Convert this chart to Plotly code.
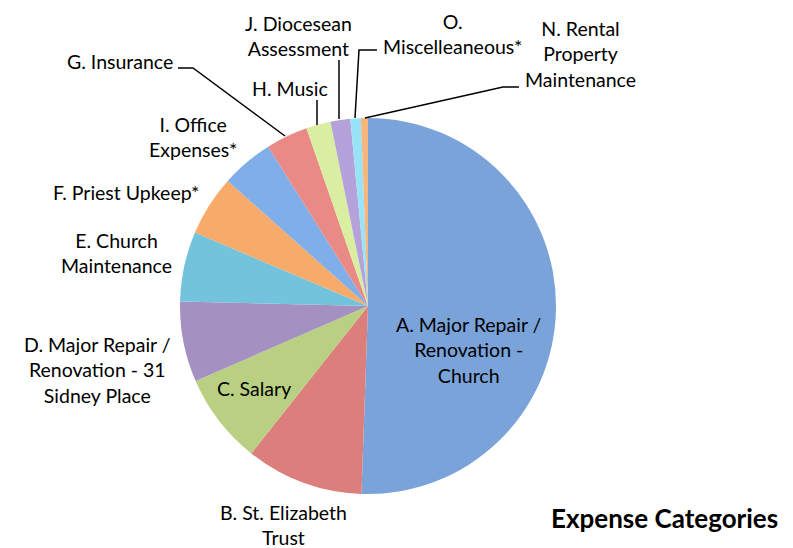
import plotly.graph_objects as go

W, H = 793, 548
OFF = 8  # page body margin
FW, FH = W - OFF, H - OFF

categories = [
    "A. Major Repair /<br>Renovation -<br>Church",
    "B. St. Elizabeth<br>Trust",
    "C. Salary",
    "D. Major Repair /<br>Renovation - 31<br>Sidney Place",
    "E. Church<br>Maintenance",
    "F. Priest Upkeep*",
    "I. Office<br>Expenses*",
    "G. Insurance",
    "H. Music",
    "J. Diocesean<br>Assessment",
    "O.<br>Miscelleaneous*",
    "N. Rental<br>Property<br>Maintenance",
]
values = [50.5, 10.1, 7.8, 6.9, 6.0, 5.2, 4.5, 3.6, 2.1, 1.7, 0.9, 0.6]
colors = ["#7aa3da", "#dc7e7b", "#b9d083", "#a491c2", "#72c3db", "#f7ab6a",
          "#80aee8", "#ea8a86", "#d9eea0", "#b6a2da", "#98e3f5", "#f8b57c"]

# label anchor points (pixel, page coords) for each category, same order
label_px = [(469, 350), (283, 525), (254, 388), (97, 370), (116, 253), (126, 192),
            (193, 137), (120, 62), (290, 88), (298, 36), (452, 34), (580, 54)]

title_text = "Expense Categories"

def px(x, y):
    return (x - OFF) / FW, 1 - (y - OFF) / FH

cx, cy, r = 368, 306, 188

x0, y0 = px(cx - r, cy + r)
x1, y1 = px(cx + r, cy - r)
fig = go.Figure(go.Pie(
    labels=categories, values=values, sort=False, direction="clockwise",
    rotation=0, textinfo="none", hoverinfo="label+percent",
    marker=dict(colors=colors, line=dict(width=0)),
    domain=dict(x=[x0, x1], y=[y0, y1]),
    showlegend=False,
))

FONT = "Lato, 'Open Sans', sans-serif"
ann = []
for lab, (x, y) in zip(categories, label_px):
    X, Y = px(x, y)
    ann.append(dict(text=lab, x=X, y=Y, xref="paper", yref="paper", showarrow=False,
                    xanchor="center", yanchor="middle", align="center",
                    font=dict(family=FONT, size=19.5, color="#000000")))
X, Y = px(664, 518)
ann.append(dict(text="<b>" + title_text + "</b>", x=X, y=Y, xref="paper", yref="paper",
                showarrow=False, xanchor="center", yanchor="middle",
                font=dict(family=FONT, size=26, color="#000000")))

# leader lines (pixel polylines)
leaders = [
    [(178, 68), (193, 68), (285, 136)],      # G
    [(317, 100), (317, 125)],                # H
    [(339, 60), (339, 119)],                 # J
    [(377, 50), (359, 50), (355, 118)],      # O
    [(519, 87), (503, 87), (365, 118)],      # N
]
shapes = []
for pts in leaders:
    path = "M " + " L ".join(f"{px(x, y)[0]:.5f},{px(x, y)[1]:.5f}" for x, y in pts)
    shapes.append(dict(type="path", path=path, xref="paper", yref="paper",
                       line=dict(color="#000000", width=1.5)))

fig.update_layout(
    width=FW, height=FH, margin=dict(l=0, r=0, t=0, b=0),
    paper_bgcolor="white", plot_bgcolor="white",
    annotations=ann, shapes=shapes,
)
fig.write_html("out.html")
